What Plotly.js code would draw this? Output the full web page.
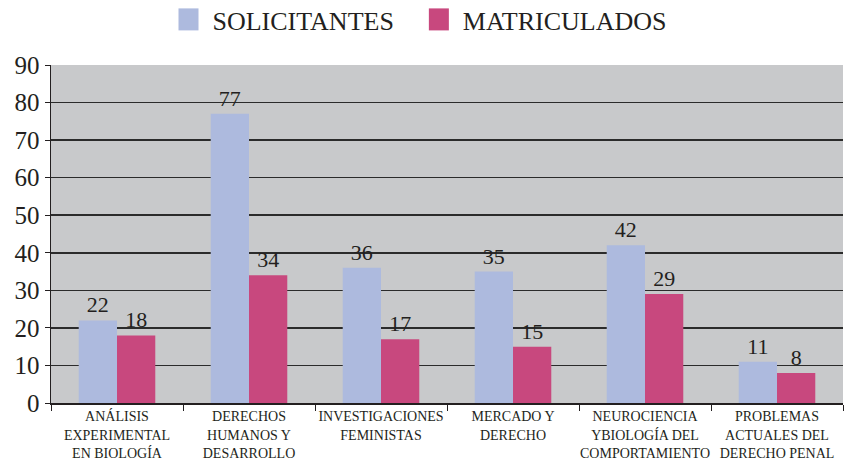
<!DOCTYPE html>
<html><head><meta charset="utf-8">
<script src="https://cdn.plot.ly/plotly-3.0.1.min.js"></script>
<style>html,body{margin:0;padding:0;background:#fff;}</style>
</head><body>
<div id="chart" style="width:845px;height:461px;"></div>
<script>
const categories = [
  "ANÁLISIS<br>EXPERIMENTAL<br>EN BIOLOGÍA",
  "DERECHOS<br>HUMANOS Y<br>DESARROLLO",
  "INVESTIGACIONES<br>FEMINISTAS",
  "MERCADO Y<br>DERECHO",
  "NEUROCIENCIA<br>YBIOLOGÍA DEL<br>COMPORTAMIENTO",
  "PROBLEMAS<br>ACTUALES DEL<br>DERECHO PENAL"
];
const solicitantes = [22, 77, 36, 35, 42, 11];
const matriculados = [18, 34, 17, 15, 29, 8];
const yTicks = [0, 10, 20, 30, 40, 50, 60, 70, 80, 90];
const seriesColors = ["#adbade", "#c8487e"];

const FONT = "Liberation Serif, Times New Roman, serif";
const INK = "#231f20";

const traces = [
  {type: "bar", name: "SOLICITANTES", x: categories, y: solicitantes,
   marker: {color: seriesColors[0]}, text: solicitantes.map(String), textposition: "outside",
   textfont: {family: FONT, size: 22, color: INK}, cliponaxis: false},
  {type: "bar", name: "MATRICULADOS", x: categories, y: matriculados,
   marker: {color: seriesColors[1]}, text: matriculados.map(String), textposition: "outside",
   textfont: {family: FONT, size: 22, color: INK}, cliponaxis: false}
];

const layout = {
  width: 845, height: 461,
  margin: {l: 51, r: 2, t: 65, b: 58},
  paper_bgcolor: "#ffffff",
  plot_bgcolor: "#c8c9cb",
  font: {family: FONT, color: INK},
  barmode: "group",
  bargap: 0.42,
  bargroupgap: 0,
  showlegend: true,
  legend: {orientation: "h", xref: "container", yref: "container",
           x: 0.5, xanchor: "center", y: 1.0, yanchor: "top",
           font: {family: FONT, size: 26, color: INK}, itemwidth: 30, bgcolor: "rgba(0,0,0,0)"},
  xaxis: {
    type: "category", tickangle: 0,
    showline: true, linecolor: "#231f20", linewidth: 1.5,
    ticks: "outside", tickson: "boundaries", ticklen: 6, tickcolor: "#231f20", tickwidth: 1,
    tickfont: {family: FONT, size: 14, color: INK},
    showgrid: false, fixedrange: true, automargin: false
  },
  yaxis: {
    range: [0, 90], tickvals: yTicks, ticktext: yTicks.map(String),
    showline: true, linecolor: "#231f20", linewidth: 1.5,
    ticks: "outside", ticklen: 5, tickcolor: "#231f20",
    tickfont: {family: FONT, size: 25, color: INK},
    showgrid: true, gridcolor: "#2b2b2b", gridwidth: 1.6,
    zeroline: false, automargin: false
  }
};

const NS = "http://www.w3.org/2000/svg";
const itemShift = [-12, 12];
function fixIcons() {
  document.querySelectorAll("#chart .legend [clip-path]").forEach(function(el){
    el.removeAttribute("clip-path");
  });
  document.querySelectorAll("#chart .legend").forEach(function(el){
    el.removeAttribute("clip-path");
    el.style.overflow = "visible";
  });
  document.querySelectorAll("#chart .legend .traces").forEach(function(item, i){
    const pts = item.querySelector(".legendpoints");
    if (!pts) return;
    pts.style.display = "none";
    let r = item.querySelector("rect.customswatch");
    if (!r) {
      r = document.createElementNS(NS, "rect");
      r.setAttribute("class", "customswatch");
      item.appendChild(r);
    }
    r.setAttribute("x", 6); r.setAttribute("y", -11);
    r.setAttribute("width", 20); r.setAttribute("height", 22);
    r.setAttribute("fill", seriesColors[i % seriesColors.length]);
    const t = item.getAttribute("transform") || "";
    if (item.getAttribute("data-applied") !== t) {
      const m = t.match(/translate\(\s*([-\d.e]+)[ ,]+([-\d.e]+)\s*\)/);
      if (m) {
        const nt = "translate(" + (parseFloat(m[1]) + itemShift[i % 2]) + "," + (parseFloat(m[2]) - 4) + ")";
        item.setAttribute("transform", nt);
        item.setAttribute("data-applied", nt);
      }
    }
  });
}
const gd = document.getElementById("chart");
Plotly.newPlot(gd, traces, layout, {displayModeBar: false, staticPlot: true}).then(function(){
  fixIcons();
  gd.on("plotly_afterplot", fixIcons);
  setTimeout(fixIcons, 50);
  setTimeout(fixIcons, 300);
});
</script>
</body></html>
